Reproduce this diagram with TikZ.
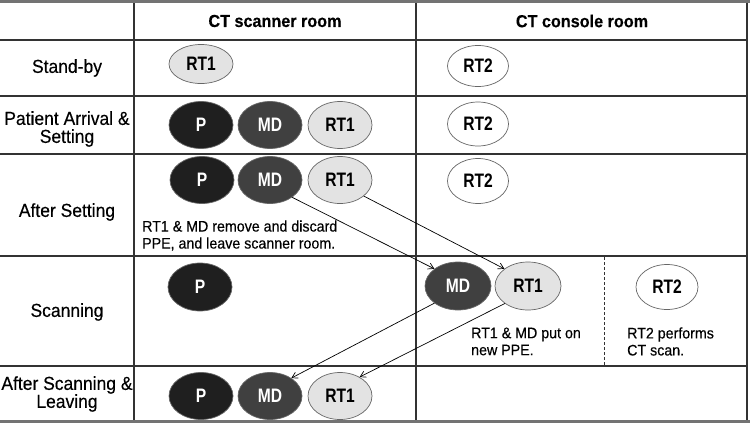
\documentclass[tikz,border=0pt]{standalone}
\usepackage{fontspec}
\setmainfont[FakeStretch=0.93,FakeBold=0.3]{Liberation Sans}
\newfontfamily\lblfont[FakeStretch=0.8]{Liberation Sans}
\usetikzlibrary{arrows.meta,shapes.geometric}
\begin{document}
\begin{tikzpicture}[x=1pt,y=-1pt,
 person/.style={ellipse,draw=black!60,line width=0.7pt,minimum width=64pt,minimum height=47pt,inner sep=0pt,font=\lblfont\fontsize{19.5}{20}\selectfont\bfseries},
 pat/.style={person,fill=black!88,text=white},
 doc/.style={person,fill=black!75,text=white},
 rta/.style={person,fill=black!11},
 rtb/.style={person,fill=white,minimum width=61pt,minimum height=44pt},
 gridline/.style={draw=black!80,line width=1.2pt},
 framel/.style={draw=black!55,line width=3pt},
 lbl/.style={font=\fontsize{18.8}{18}\selectfont,align=center},
 hdr/.style={font=\fontsize{17.4}{18}\selectfont\bfseries},
 note/.style={font=\fontsize{15.3}{17}\selectfont,align=left,anchor=west,inner sep=0pt},
 move/.style={-{Straight Barb[length=5.5pt,width=6.5pt]},line width=0.7pt}
]
\useasboundingbox (0,0) rectangle (750,423);
% grid
\foreach \yy in {40,96,154,256,366} \draw[gridline] (0,\yy) -- (748,\yy);
\draw[gridline] (134,0) -- (134,421);
\draw[gridline] (416,0) -- (416,421);
\draw[gridline] (747,0) -- (747,421);
\draw[framel] (0,1.5) -- (750,1.5);
\draw[framel] (0,421.5) -- (750,421.5);
\draw[draw=black!80,line width=0.8pt,dash pattern=on 3pt off 2pt] (604,257) -- (604,366);
% headers
\node[hdr] (h1) at (275,21) {CT scanner room};
\node[hdr] (h2) at (582,21) {CT console room};
% row labels
\node[lbl] (r1) at (67,68) {Stand-by};
\node[lbl] (r2) at (67,129) {Patient Arrival \&\\Setting};
\node[lbl] (r3) at (67,212) {After Setting};
\node[lbl] (r4) at (67,312) {Scanning};
\node[lbl] (r5) at (67,394) {After Scanning \&\\Leaving};
% row 1
\node[rta,minimum height=39pt] (rt1a) at (201,64) {RT1};
\node[rtb,minimum height=41pt] (rt2a) at (478,66) {RT2};
% row 2
\node[pat] (pb) at (201,125) {P};
\node[doc] (mdb) at (270,125) {MD};
\node[rta] (rt1b) at (340,125) {RT1};
\node[rtb] (rt2b) at (478,124) {RT2};
% row 3
\node[pat] (pc) at (202,180) {P};
\node[doc] (mdc) at (270,180) {MD};
\node[rta] (rt1c) at (340,180) {RT1};
\node[rtb,minimum height=45pt] (rt2c) at (478,181) {RT2};
\node[note] (n1) at (142,235.5) {RT1 \& MD remove and discard\\PPE, and leave scanner room.};
% row 4
\node[pat,minimum height=48pt] (pd) at (200,287) {P};
\node[doc,minimum height=48pt,minimum width=66pt] (mdd) at (458,286) {MD};
\node[rta,minimum height=48pt,minimum width=66pt] (rt1d) at (528,286) {RT1};
\node[rtb,minimum width=62pt,minimum height=45pt] (rt2d) at (667,287) {RT2};
\node[note] (n2) at (471,341.5) {RT1 \& MD put on\\new PPE.};
\node[note] (n3) at (627,341.5) {RT2 performs\\CT scan.};
% row 5
\node[pat] (pe) at (201,396) {P};
\node[doc] (mde) at (270,396) {MD};
\node[rta] (rt1e) at (340,396) {RT1};
% moves
\draw[move] (mdc.-38) -- (mdd.144);
\draw[move] (rt1c.-34) -- (rt1d.144);
\draw[move] (mdd.-144) -- (mde.40);
\draw[move] (rt1d.-143) -- (rt1e.44);
\end{tikzpicture}
\end{document}
